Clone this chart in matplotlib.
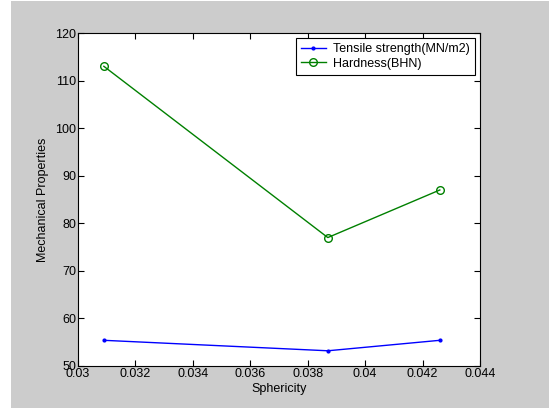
import matplotlib
matplotlib.use("Agg")
import matplotlib.pyplot as plt
from matplotlib.patches import Rectangle
from matplotlib.ticker import MultipleLocator

plt.rcParams['font.family'] = ['Liberation Sans', 'DejaVu Sans']

sphericity = [0.0309, 0.0387, 0.0426]
tensile = [55.4, 53.2, 55.4]
hardness = [113, 77, 87]
xtick_vals = [0.03, 0.032, 0.034, 0.036, 0.038, 0.04, 0.042, 0.044]
xtick_labels = ['0.03', '0.032', '0.034', '0.036', '0.038', '0.04', '0.042', '0.044']

fig = plt.figure(figsize=(5.49, 4.08), dpi=100)
fig.patch.set_facecolor('white')
# grey MATLAB-style figure background with a thin white strip on the left
fig.patches.append(Rectangle((11 / 549, 0.0), 1.0, 407 / 408, transform=fig.transFigure,
                             facecolor='#cccccc', edgecolor='none', zorder=-10))

ax = fig.add_axes([78 / 549, 1 - 366 / 408, (480 - 78) / 549, (366 - 33) / 408])
ax.set_facecolor('white')

ax.plot(sphericity, tensile, color='#0000ff', marker='.', markersize=4, lw=1,
        label='Tensile strength(MN/m2)')
ax.plot(sphericity, hardness, color='#008000', marker='o', markersize=5.5, lw=1,
        markerfacecolor='none', label='Hardness(BHN)')

ax.set_xlim(0.03, 0.044)
ax.set_ylim(50, 120)
ax.yaxis.set_major_locator(MultipleLocator(10))
ax.set_xticks(xtick_vals)
ax.set_xticklabels(xtick_labels)

ax.tick_params(direction='in', top=True, right=True, length=4, width=0.8,
               labelsize=9, pad=1.5)
for s in ax.spines.values():
    s.set_linewidth(0.8)

ax.set_xlabel('Sphericity', fontsize=9, labelpad=2)
ax.set_ylabel('Mechanical Properties', fontsize=9, labelpad=4)

leg = ax.legend(loc='upper right', fontsize=9, fancybox=False, framealpha=1,
                edgecolor='black', borderpad=0.4, labelspacing=0.2,
                handlelength=2.0, handletextpad=0.6, borderaxespad=0.4)
leg.get_frame().set_linewidth(0.8)

fig.savefig('out.png', dpi=100)
